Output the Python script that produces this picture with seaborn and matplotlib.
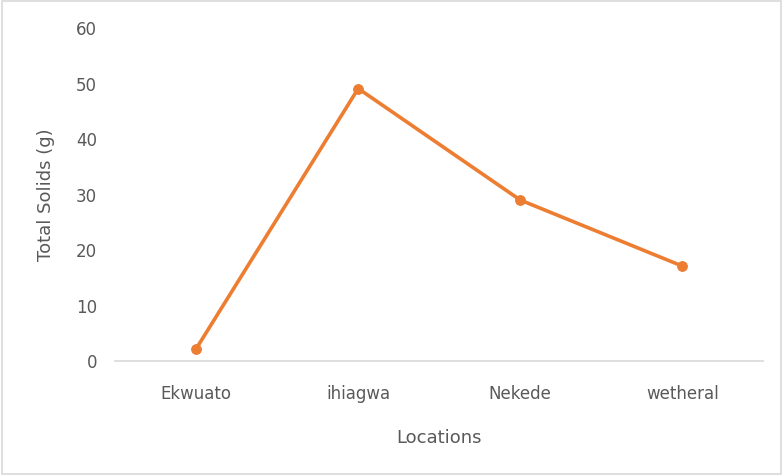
import matplotlib
matplotlib.use('Agg')
import matplotlib.pyplot as plt
import seaborn as sns
import pandas as pd

locations = ['Ekwuato', 'ihiagwa', 'Nekede', 'wetheral']
total_solids = [2.2, 49.1, 29.0, 17.1]

df = pd.DataFrame({'Locations': locations, 'Total Solids (g)': total_solids})

sns.set_style('white')
plt.rcParams['font.family'] = ['DejaVu Sans']

fig = plt.figure(figsize=(7.83, 4.75), dpi=100)
ax = fig.add_axes([0.147, 0.24, 0.828, 0.701])

sns.lineplot(data=df, x='Locations', y='Total Solids (g)', sort=False,
             color='#ED7D31', linewidth=2.6, marker='o', markersize=7,
             markeredgecolor='#ED7D31', ax=ax)

ax.set_xlim(-0.5, 3.5)
ax.set_ylim(0, 60)
ax.set_yticks(range(0, 61, 10))
ax.tick_params(axis='x', colors='#595959', labelsize=12, length=0, pad=17)
ax.tick_params(axis='y', colors='#595959', labelsize=12, length=0, pad=13)
ax.set_xlabel('Locations', fontsize=13, color='#595959', labelpad=19)
ax.set_ylabel('Total Solids (g)', fontsize=13, color='#595959', labelpad=15)

for s in ['top', 'right', 'left']:
    ax.spines[s].set_visible(False)
ax.spines['bottom'].set_color('#D9D9D9')
ax.spines['bottom'].set_linewidth(1.2)

# light frame round the whole chart
border = plt.Rectangle((0.003, 0.003), 0.994, 0.994, transform=fig.transFigure,
                       fill=False, edgecolor='#D9D9D9', linewidth=1.2)
fig.patches.append(border)

plt.savefig('out.png', dpi=100)
